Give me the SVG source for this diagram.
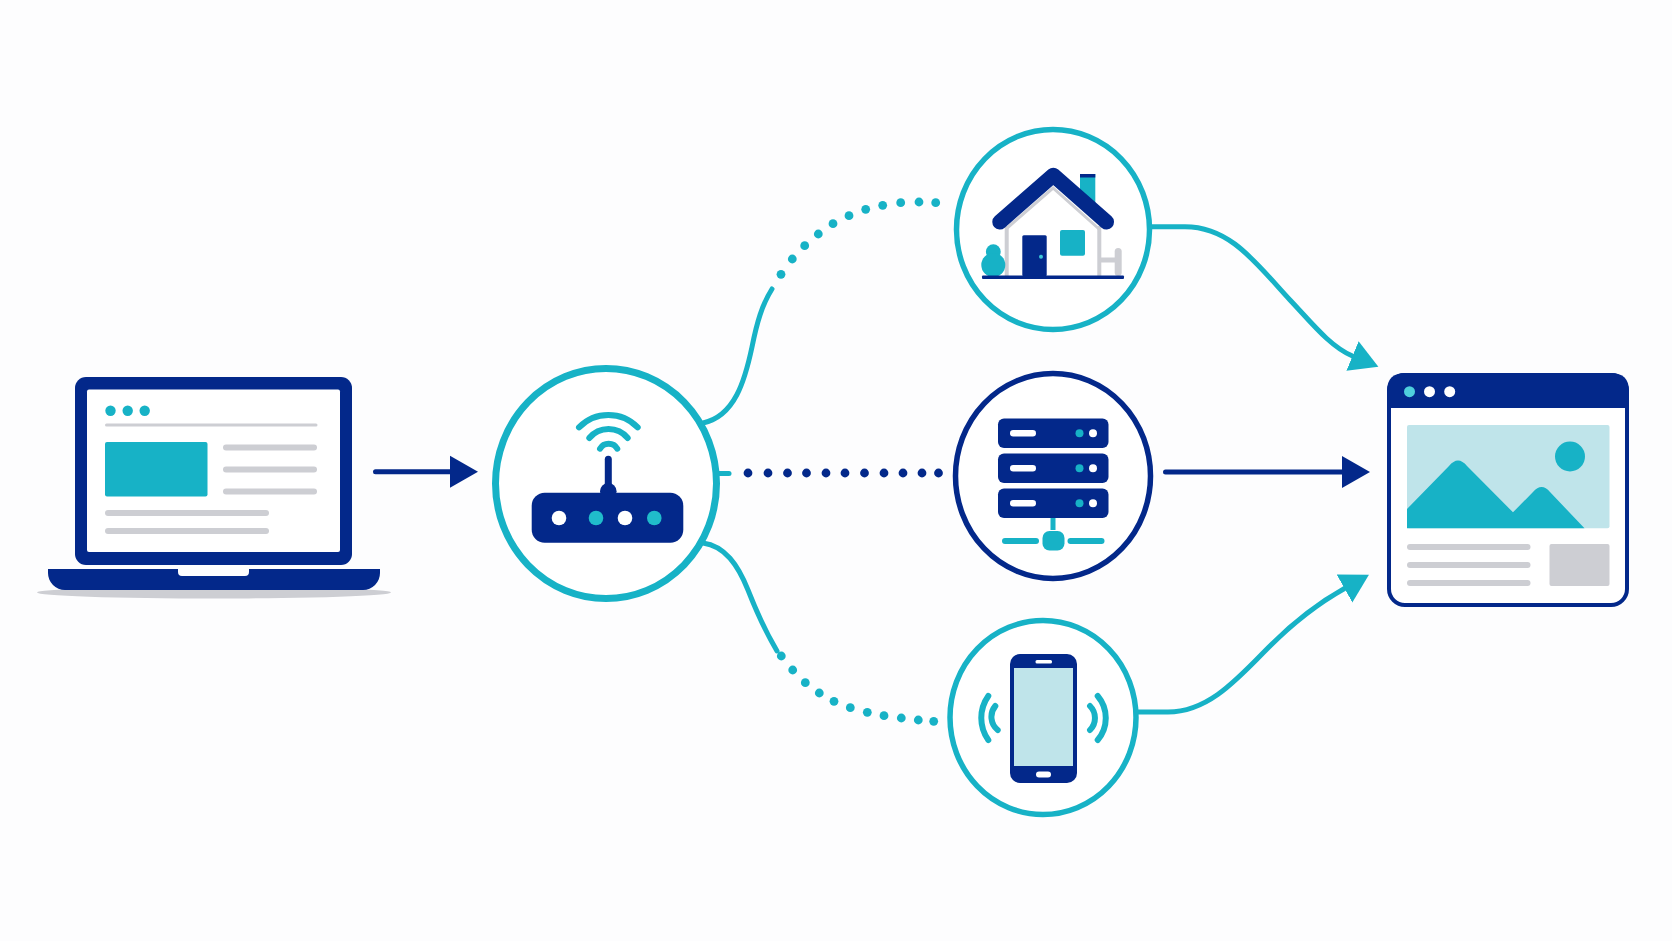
<svg xmlns="http://www.w3.org/2000/svg" width="1672" height="941" viewBox="0 0 1672 941">
<style>
.navy{fill:#03288a}.teal{fill:#17b2c6}.grey{fill:#cdced3}.white{fill:#fff}.pale{fill:#bfe4ea}
.ring{fill:#fff;stroke:#17b2c6}
.ringn{fill:#fff;stroke:#03288a}
.ct{fill:none;stroke:#17b2c6;stroke-width:5;stroke-linecap:round}
.cn{fill:none;stroke:#03288a;stroke-width:5;stroke-linecap:round}
.ts{fill:none;stroke:#17b2c6;stroke-width:6;stroke-linecap:round}
.gs{fill:none;stroke:#cdced3}
</style>
<defs>
<marker id="hn" markerUnits="userSpaceOnUse" markerWidth="30" markerHeight="34" viewBox="0 0 30 34" refX="2" refY="17" orient="auto"><path d="M0 1L28 17L0 33Z" fill="#03288a"/></marker>
<marker id="ht" markerUnits="userSpaceOnUse" markerWidth="30" markerHeight="34" viewBox="0 0 30 34" refX="0" refY="17" orient="auto"><path d="M0 1L28 17L0 33Z" fill="#17b2c6"/></marker>
<marker id="dt" markerUnits="userSpaceOnUse" markerWidth="10" markerHeight="10" viewBox="0 0 10 10" refX="5" refY="5"><circle cx="5" cy="5" r="4.4" fill="#17b2c6"/></marker>
<marker id="dn" markerUnits="userSpaceOnUse" markerWidth="10" markerHeight="10" viewBox="0 0 10 10" refX="5" refY="5"><circle cx="5" cy="5" r="4.4" fill="#03288a"/></marker>
</defs>
<rect width="1672" height="941" fill="#fdfdfe"/>
<g id="connectors">
<path class="cn" marker-end="url(#hn)" d="M375.5 471.7H452"/>
<path class="ct" d="M703 423C735 416 745 380 752 347C757 322 762 305 772 289"/>
<path fill="none" stroke="none" marker-start="url(#dt)" marker-mid="url(#dt)" marker-end="url(#dt)" d="M781 274.3L792.3 259L804.7 245.7L818.3 234L833 223.7L849 215.7L865.7 209.3L882.7 205.3L900.7 202.7L919 202L935.7 202.7"/>
<path class="ct" stroke-width="6" d="M716 473.5H729"/>
<path fill="none" stroke="none" marker-start="url(#dn)" marker-mid="url(#dn)" marker-end="url(#dn)" d="M748 473L768 473L787.5 473L806.5 473L826 473L845 473L864.5 473L884 473L903 473L922 473L938.5 473"/>
<path class="ct" d="M703 543C725 546 738 565 748 590C757 613 767 634 777 651"/>
<path fill="none" stroke="none" marker-start="url(#dt)" marker-mid="url(#dt)" marker-end="url(#dt)" d="M781.3 656L792.7 670L805.3 682.7L819.3 693L834 701.3L850.3 707.7L867.3 712.3L884 715.7L901.3 718L918.3 720L933.7 721.3"/>
<path class="ct" marker-end="url(#ht)" d="M1152 226.7H1185C1230 226.7 1255 262 1290 300C1310 321 1330 346.7 1352.5 356"/>
<path class="cn" marker-end="url(#hn)" d="M1165.5 472H1344"/>
<path class="ct" marker-end="url(#ht)" d="M1137 712H1168C1205 712 1232 685 1263 653C1290 625 1315 605 1344.5 588.5"/>
</g>
<g id="laptop">
<ellipse class="grey" cx="214" cy="592.5" rx="177" ry="6"/>
<rect class="navy" x="75" y="377" width="277" height="188" rx="11"/>
<rect class="white" x="87" y="389.5" width="253" height="162.5" rx="2"/>
<circle class="teal" cx="110.5" cy="410.7" r="5.2"/><circle class="teal" cx="127.7" cy="410.7" r="5.2"/><circle class="teal" cx="144.7" cy="410.7" r="5.2"/>
<rect class="grey" x="105" y="423.5" width="212.5" height="3" rx="1.5"/>
<rect class="teal" x="105" y="442" width="102.5" height="54.5" rx="2"/>
<rect class="grey" x="223" y="444.5" width="94" height="6" rx="3"/><rect class="grey" x="223" y="466.5" width="94" height="6" rx="3"/><rect class="grey" x="223" y="488.5" width="94" height="6" rx="3"/>
<rect class="grey" x="105" y="510" width="164" height="6" rx="3"/><rect class="grey" x="105" y="528" width="164" height="6" rx="3"/>
<path class="navy" d="M48 569H178V572Q178 576 182 576H245Q249 576 249 572V569H380V573A17 17 0 0 1 363 590H65A17 17 0 0 1 48 573Z"/>
</g>
<g id="router">
<ellipse class="ring" stroke-width="7" cx="606" cy="483.5" rx="110.5" ry="115"/>
<path class="ts" d="M579 427.3A41 41 0 0 1 637.7 427.3M589.3 438A25 25 0 0 1 627.7 438M600 448.7A10 10 0 0 1 617.3 448.7"/>
<rect class="navy" x="604.8" y="455.7" width="7" height="36" rx="3.5"/>
<circle class="navy" cx="608.3" cy="491.3" r="8.3"/>
<rect class="navy" x="531.7" y="492.7" width="151.6" height="50" rx="13"/>
<circle class="white" cx="559" cy="518" r="7.3"/><circle cx="596" cy="518" r="7.3" fill="#20bccb"/><circle class="white" cx="625" cy="518" r="7.3"/><circle cx="654.3" cy="518" r="7.3" fill="#20bccb"/>
</g>
<g id="home">
<ellipse class="ring" stroke-width="5.5" cx="1053" cy="229.5" rx="96.5" ry="100"/>
<path class="teal" d="M1080 174H1095.3V205L1080 195Z"/>
<rect class="navy" x="1080" y="174" width="15.3" height="3.5"/>
<path class="gs" stroke-width="4" d="M1006.7 226V276M1099.3 226V276"/>
<path class="gs" stroke-width="3" d="M1006 229L1053 188L1099 229"/>
<path fill="none" stroke="#03288a" stroke-width="15" stroke-linecap="round" stroke-linejoin="round" d="M999.8 222L1053.3 175.2L1106.5 222"/>
<circle class="teal" cx="993.3" cy="251.7" r="7.4"/><circle class="teal" cx="993.3" cy="265" r="12"/>
<rect class="navy" x="1022.3" y="235.3" width="24.4" height="41" rx="1.5"/>
<circle cx="1041" cy="256.7" r="2" fill="#3cc8d8"/>
<rect class="teal" x="1060" y="230" width="25" height="25.7" rx="2"/>
<rect class="grey" x="1100" y="257.5" width="18" height="5"/>
<rect class="grey" x="1114.7" y="248" width="7" height="28" rx="3.5"/>
<rect class="navy" x="982" y="275.5" width="142" height="3.5" rx="1"/>
</g>
<g id="server">
<ellipse class="ringn" stroke-width="5.5" cx="1053" cy="476" rx="97.5" ry="102.5"/>
<rect class="teal" x="1050.5" y="518" width="5" height="12"/>
<rect class="navy" x="998" y="418.5" width="110.5" height="29.5" rx="6"/>
<rect class="navy" x="998" y="453.5" width="110.5" height="29.5" rx="6"/>
<rect class="navy" x="998" y="488.5" width="110.5" height="29.5" rx="6"/>
<rect class="white" x="1010" y="430" width="26" height="6.5" rx="3.2"/><rect class="white" x="1010" y="465" width="26" height="6.5" rx="3.2"/><rect class="white" x="1010" y="500" width="26" height="6.5" rx="3.2"/>
<circle class="teal" cx="1079.5" cy="433.3" r="4"/><circle class="white" cx="1093" cy="433.3" r="4"/>
<circle class="teal" cx="1079.5" cy="468.3" r="4"/><circle class="white" cx="1093" cy="468.3" r="4"/>
<circle class="teal" cx="1079.5" cy="503.3" r="4"/><circle class="white" cx="1093" cy="503.3" r="4"/>
<rect class="teal" x="1042.5" y="531" width="22" height="19.5" rx="7"/>
<rect class="teal" x="1002" y="538" width="37" height="6" rx="3"/><rect class="teal" x="1067.5" y="538" width="37" height="6" rx="3"/>
</g>
<g id="phone">
<ellipse class="ring" stroke-width="5.5" cx="1043" cy="717.5" rx="93" ry="97"/>
<path class="ts" d="M988.3 696A38 38 0 0 0 988.3 740M995.3 706A17 17 0 0 0 997.7 730M1097.7 696A34 34 0 0 1 1097.7 740M1090 706A17 17 0 0 1 1090 730"/>
<rect class="navy" x="1010" y="654" width="67" height="129" rx="10"/>
<rect class="pale" x="1014" y="668" width="59" height="98"/>
<rect class="white" x="1035.5" y="660" width="16.5" height="3.5" rx="1.5"/>
<rect class="white" x="1036" y="771.5" width="15" height="6" rx="3"/>
</g>
<g id="browser">
<rect x="1389" y="375" width="238" height="230" rx="16" fill="#fff" stroke="#03288a" stroke-width="4"/>
<path class="navy" d="M1387 408V391Q1387 373 1405 373H1611Q1629 373 1629 391V408Z"/>
<circle cx="1409.5" cy="391.7" r="5.5" fill="#4fcfdc"/><circle class="white" cx="1429.5" cy="391.7" r="5.5"/><circle class="white" cx="1449.7" cy="391.7" r="5.5"/>
<rect class="pale" x="1407" y="425" width="202.5" height="103.3" rx="2"/>
<circle class="teal" cx="1570" cy="456.5" r="15"/>
<path class="teal" d="M1407 509L1449 466Q1458 455 1467 466L1513 512.3L1533 492Q1541.7 482 1550 492L1584.5 528.3H1407Z"/>
<rect class="grey" x="1407" y="544" width="123.5" height="6" rx="3"/><rect class="grey" x="1407" y="562" width="123.5" height="6" rx="3"/><rect class="grey" x="1407" y="580" width="123.5" height="6" rx="3"/>
<rect class="grey" x="1549.5" y="544" width="60" height="42" rx="2"/>
</g>
</svg>
